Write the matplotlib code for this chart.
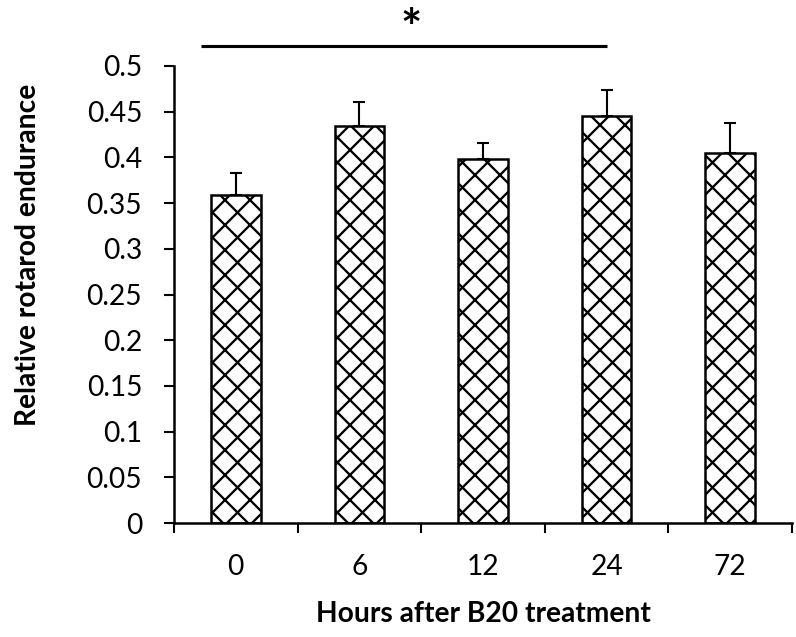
import matplotlib
matplotlib.use("Agg")
import matplotlib.pyplot as plt
import numpy as np

# dane
hours = ["0", "6", "12", "24", "72"]
endurance = [0.359, 0.434, 0.398, 0.445, 0.405]
err_upper = [0.024, 0.027, 0.018, 0.029, 0.033]

# linia istotnosci (od, do, wysokosc)
sig_from = -0.28
sig_to = 3.0
sig_y = 0.522

plt.rcParams['font.family'] = ['Lato', 'DejaVu Sans']
plt.rcParams['hatch.linewidth'] = 1.1
plt.rcParams['hatch.color'] = 'black'

DPI = 150
fig = plt.figure(figsize=(796 / DPI, 637 / DPI), dpi=DPI)
ax = fig.add_axes([174 / 796, 1 - 523 / 637, (792 - 174) / 796, (523 - 66) / 637])

x = np.arange(len(hours))
ax.bar(x, endurance, width=0.40, color='white', edgecolor='black',
       linewidth=1.2, hatch='xx', zorder=2)
ax.errorbar(x, endurance, yerr=[np.zeros(len(x)), err_upper], fmt='none',
            ecolor='black', elinewidth=1.0, capsize=3, capthick=1.0, zorder=3)

ax.set_xlim(-0.5, len(hours) - 0.5)
ax.set_ylim(0, 0.5)
ax.set_yticks(np.arange(0, 0.501, 0.05))
ax.set_yticklabels(["0", "0.05", "0.1", "0.15", "0.2", "0.25", "0.3", "0.35",
                    "0.4", "0.45", "0.5"])
ax.set_xticks(x)
ax.set_xticklabels(hours)
ax.set_xticks(np.arange(-0.5, len(hours), 1.0), minor=True)

ax.tick_params(axis='y', direction='out', length=4.8, width=1.0, labelsize=13.5, pad=10.5)
ax.tick_params(axis='x', which='major', length=0, labelsize=13.5, pad=15)
ax.tick_params(axis='x', which='minor', direction='out', length=4.8, width=1.0)

for side in ['top', 'right']:
    ax.spines[side].set_visible(False)
for side in ['left', 'bottom']:
    ax.spines[side].set_linewidth(1.2)

# istotnosc
ax.plot([sig_from, sig_to], [sig_y, sig_y], color='black', linewidth=1.5,
        clip_on=False, solid_capstyle='butt')
ax.text(1.42, 0.563, '*', ha='center', va='top', fontsize=24,
        fontweight='bold', clip_on=False)

fig.text(0.035, 1 - 255 / 637, 'Relative rotarod endurance', rotation=90,
         ha='center', va='center', fontsize=13.5, fontweight='bold')
fig.text((174 + 792) / 2 / 796, 1 - 622 / 637, 'Hours after B20 treatment',
         ha='center', va='baseline', fontsize=13.5, fontweight='bold')

fig.savefig("out.png", dpi=DPI)
